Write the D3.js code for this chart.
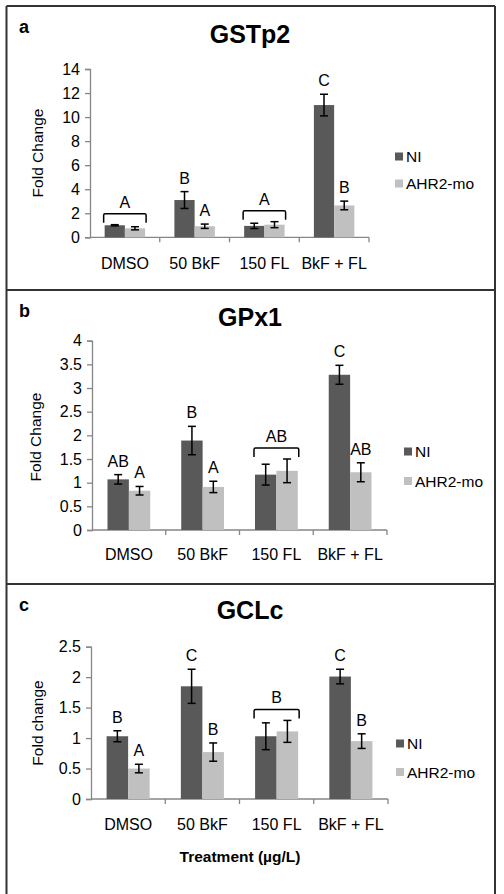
<!DOCTYPE html>
<html><head><meta charset="utf-8">
<script src="https://cdn.jsdelivr.net/npm/d3@7"></script>
<style>
html,body{margin:0;padding:0;background:#fff;}
text{font-family:"Liberation Sans",Arial,sans-serif;}
</style></head>
<body><svg id="c" width="504" height="894"></svg>
<script>
// ---- data ----
const categories = ["DMSO", "50 BkF", "150 FL", "BkF + FL"];
const seriesNames = ["NI", "AHR2-mo"];

const gstNI = [1.0, 3.1, 0.95, 11.0];
const gstNIErr = [0.05, 0.7, 0.22, 0.9];
const gstAHR = [0.75, 0.92, 1.05, 2.65];
const gstAHRErr = [0.13, 0.18, 0.25, 0.36];
const gstTicks = [0, 2, 4, 6, 8, 10, 12, 14];
const gstLetNI = ["", "B", "", "C"];
const gstLetAHR = ["", "A", "", "B"];
const gstBracket = ["A", "", "A", ""];

const gpxNI = [1.07, 1.89, 1.17, 3.28];
const gpxNIErr = [0.1, 0.3, 0.22, 0.2];
const gpxAHR = [0.83, 0.91, 1.25, 1.22];
const gpxAHRErr = [0.09, 0.12, 0.25, 0.2];
const gpxTicks = [0, 0.5, 1, 1.5, 2, 2.5, 3, 3.5, 4];
const gpxLetNI = ["AB", "B", "", "C"];
const gpxLetAHR = ["A", "A", "", "AB"];
const gpxBracket = ["", "", "AB", ""];

const gclNI = [1.03, 1.85, 1.03, 2.01];
const gclNIErr = [0.09, 0.28, 0.22, 0.12];
const gclAHR = [0.50, 0.77, 1.11, 0.95];
const gclAHRErr = [0.07, 0.15, 0.18, 0.12];
const gclTicks = [0, 0.5, 1, 1.5, 2, 2.5];
const gclLetNI = ["B", "C", "", "C"];
const gclLetAHR = ["A", "B", "", "B"];
const gclBracket = ["", "", "B", ""];

// ---- layout ----
const colors = ["#595959", "#c0c0c0"];
const svg = d3.select("#c");

const panels = [
  {tag:"a", title:"GSTp2", ylab:"Fold Change", ni:gstNI, niE:gstNIErr, ahr:gstAHR, ahrE:gstAHRErr,
   ticks:gstTicks, letNI:gstLetNI, letAHR:gstLetAHR, br:gstBracket,
   L:90, R:369, T:69, B:237.3, tagY:33, titleY:43, catY:269, ylabX:37, ylabY:153,
   legX:395, legY:[156.5,183.5]},
  {tag:"b", title:"GPx1", ylab:"Fold Change", ni:gpxNI, niE:gpxNIErr, ahr:gpxAHR, ahrE:gpxAHRErr,
   ticks:gpxTicks, letNI:gpxLetNI, letAHR:gpxLetAHR, br:gpxBracket,
   L:92, R:387, T:340.7, B:530, tagY:317, titleY:326, catY:560, ylabX:35, ylabY:437,
   legX:404, legY:[451.5,481]},
  {tag:"c", title:"GCLc", ylab:"Fold change", ni:gclNI, niE:gclNIErr, ahr:gclAHR, ahrE:gclAHRErr,
   ticks:gclTicks, letNI:gclLetNI, letAHR:gclLetAHR, br:gclBracket,
   L:91, R:388, T:646.7, B:799, tagY:611, titleY:619, catY:830, ylabX:37, ylabY:723,
   legX:396, legY:[743.5,772]}
];

// borders
const bc = "#333";
[[6.5,6,6.5,894],[495,6,495,894],[6.5,6,495,6],[6.5,290,495,290],[6.5,584,495,584]].forEach(l=>{
  svg.append("line").attr("x1",l[0]).attr("y1",l[1]).attr("x2",l[2]).attr("y2",l[3])
    .attr("stroke",bc).attr("stroke-width",2);
});

panels.forEach(p => {
  const g = svg.append("g");
  const x = d3.scaleBand().domain(categories).range([p.L, p.R]).paddingInner(0.42).paddingOuter(0.21);
  const xs = d3.scaleBand().domain(seriesNames).range([0, x.bandwidth()]).padding(0);
  const ymax = p.ticks[p.ticks.length-1];
  const y = d3.scaleLinear().domain([0, ymax]).range([p.B, p.T]);

  // y axis
  const ya = g.append("g").attr("transform", `translate(${p.L},0)`)
    .call(d3.axisLeft(y).tickValues(p.ticks).tickSize(5).tickPadding(5).tickFormat(d3.format("")));
  ya.select(".domain").attr("stroke","#868686").attr("stroke-width",1.3);
  ya.selectAll(".tick line").attr("stroke","#868686").attr("stroke-width",1.3);
  ya.selectAll("text").attr("font-size",16).attr("fill","#000").style("font-family","'Liberation Sans',Arial,sans-serif");

  // x axis: line with ticks at band boundaries
  g.append("line").attr("x1",p.L).attr("x2",p.R).attr("y1",p.B).attr("y2",p.B)
    .attr("stroke","#868686").attr("stroke-width",1.3);
  categories.forEach((c,i)=>{
    const bx = p.L + (i+1)*(p.R-p.L)/categories.length;
    g.append("line").attr("x1",bx).attr("x2",bx).attr("y1",p.B).attr("y2",p.B+5)
      .attr("stroke","#868686").attr("stroke-width",1.3);
    g.append("text").attr("x", x(c)+x.bandwidth()/2).attr("y", p.catY)
      .attr("text-anchor","middle").attr("font-size",16).attr("fill","#000").text(c);
  });

  const vals = [p.ni, p.ahr], errs = [p.niE, p.ahrE], lets = [p.letNI, p.letAHR];
  // bars
  seriesNames.forEach((s,si)=>{
    g.selectAll(null).data(categories).enter().append("rect")
      .attr("x", c => x(c)+xs(s)).attr("width", xs.bandwidth())
      .attr("y", (c,i)=> y(vals[si][i])).attr("height",(c,i)=> y(0)-y(vals[si][i]))
      .attr("fill", colors[si]);
  });
  // error bars + letters
  seriesNames.forEach((s,si)=>{
    categories.forEach((c,i)=>{
      const cx = x(c)+xs(s)+xs.bandwidth()/2;
      const v = vals[si][i], e = errs[si][i];
      const y1 = y(v+e), y2 = y(v-e);
      g.append("line").attr("x1",cx).attr("x2",cx).attr("y1",y1).attr("y2",y2).attr("stroke","#000").attr("stroke-width",1.5);
      [y1,y2].forEach(yy=> g.append("line").attr("x1",cx-4).attr("x2",cx+4).attr("y1",yy).attr("y2",yy).attr("stroke","#000").attr("stroke-width",1.5));
      if (lets[si][i]) {
        g.append("text").attr("x",cx).attr("y",y1-8).attr("text-anchor","middle")
          .attr("font-size",16).attr("fill","#000").text(lets[si][i]);
      }
    });
  });
  // brackets
  categories.forEach((c,i)=>{
    if (!p.br[i]) return;
    const top = Math.min(y(p.ni[i]+p.niE[i]), y(p.ahr[i]+p.ahrE[i])) - 11;
    const xa = x(c)-1, xb = x(c)+x.bandwidth()+1;
    g.append("path").attr("d",`M${xa},${top+9} L${xa},${top+1.5} Q${xa},${top} ${xa+1.5},${top} L${xb-1.5},${top} Q${xb},${top} ${xb},${top+1.5} L${xb},${top+9}`)
      .attr("fill","none").attr("stroke","#000").attr("stroke-width",1.5);
    g.append("text").attr("x",(xa+xb)/2).attr("y",top-6).attr("text-anchor","middle")
      .attr("font-size",16).attr("fill","#000").text(p.br[i]);
  });

  // titles
  g.append("text").attr("x",19).attr("y",p.tagY).attr("font-size",18).attr("font-weight","bold").text(p.tag);
  g.append("text").attr("x",250).attr("y",p.titleY).attr("text-anchor","middle").attr("font-size",25).attr("font-weight","bold").text(p.title);
  g.append("text").attr("transform",`translate(${p.ylabX},${p.ylabY}) rotate(-90)`).attr("text-anchor","middle")
    .attr("dominant-baseline","central").attr("font-size",15.5).text(p.ylab);

  // legend
  seriesNames.forEach((s,si)=>{
    g.append("rect").attr("x",p.legX).attr("y",p.legY[si]-4).attr("width",8).attr("height",8).attr("fill",colors[si]);
    g.append("text").attr("x",p.legX+11).attr("y",p.legY[si]).attr("dominant-baseline","central")
      .attr("font-size",15.5).attr("fill","#000").text(s);
  });
});

svg.append("text").attr("x",240).attr("y",862).attr("text-anchor","middle").attr("font-size",15.5)
  .attr("font-weight","bold").text("Treatment (\u00b5g/L)");
</script>
</body></html>
